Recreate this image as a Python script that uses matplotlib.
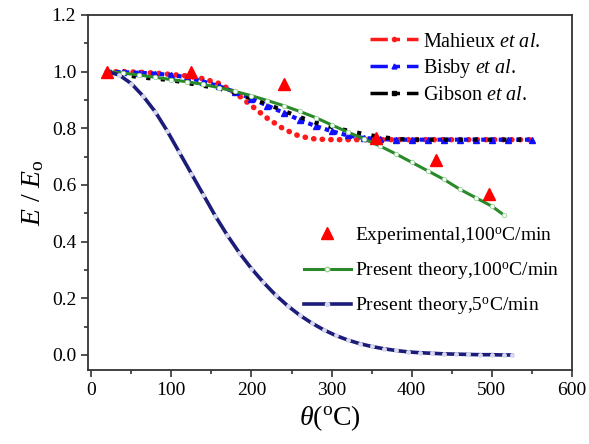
import matplotlib
matplotlib.use("Agg")
import matplotlib.pyplot as plt
from matplotlib.lines import Line2D
from matplotlib.ticker import MultipleLocator

plt.rcParams['font.family'] = ['Liberation Serif', 'DejaVu Serif']
plt.rcParams['mathtext.fontset'] = 'custom'
plt.rcParams['mathtext.rm'] = 'Liberation Serif'
plt.rcParams['mathtext.it'] = 'Liberation Serif:italic'
plt.rcParams['mathtext.bf'] = 'Liberation Serif:bold'

# ---- data ----
exp_T = [20, 125, 240, 356, 430, 496]
exp_E = [1.0, 0.998, 0.957, 0.766, 0.688, 0.568]

lit_T = [20, 40, 60, 80, 100, 120, 140, 160, 180, 200, 220, 240, 260, 280, 300,
         320, 340, 360, 380, 400, 420, 440, 460, 480, 500, 520, 550]
mahieux_E = [1.0, 1.0, 0.998, 0.995, 0.99, 0.985, 0.975, 0.958, 0.925, 0.88, 0.835,
             0.798, 0.772, 0.762, 0.76, 0.76, 0.76, 0.76, 0.76, 0.76, 0.76, 0.76,
             0.76, 0.76, 0.76, 0.76, 0.76]
bisby_E = [1.0, 0.998, 0.996, 0.993, 0.988, 0.98, 0.965, 0.948, 0.928, 0.905, 0.88,
           0.855, 0.83, 0.808, 0.79, 0.775, 0.766, 0.762, 0.76, 0.76, 0.76, 0.76,
           0.76, 0.76, 0.76, 0.76, 0.76]
gibson_E = [1.0, 0.99, 0.98, 0.975, 0.97, 0.96, 0.95, 0.94, 0.925, 0.905, 0.885,
            0.862, 0.84, 0.82, 0.805, 0.792, 0.78, 0.77, 0.763, 0.76, 0.76, 0.76,
            0.76, 0.76, 0.76, 0.76, 0.76]

t100_T = [20, 40, 60, 80, 100, 120, 140, 160, 180, 200, 220, 240, 260, 280, 300,
          320, 340, 360, 380, 400, 420, 440, 460, 480, 500, 515]
t100_E = [1.0, 0.995, 0.988, 0.98, 0.972, 0.964, 0.955, 0.943, 0.93, 0.915, 0.898,
          0.88, 0.86, 0.838, 0.812, 0.787, 0.763, 0.738, 0.71, 0.68, 0.65, 0.62,
          0.585, 0.555, 0.525, 0.494]

t5_T = [20, 35, 50, 65, 80, 95, 110, 125, 140, 155, 170, 185, 200, 215, 230, 245,
        260, 275, 290, 305, 320, 335, 350, 365, 380, 395, 410, 425, 440, 455, 470,
        485, 500, 515, 525]
t5_E = [1.0, 0.988, 0.958, 0.913, 0.858, 0.79, 0.715, 0.64, 0.565, 0.49, 0.422,
        0.36, 0.305, 0.256, 0.212, 0.174, 0.141, 0.113, 0.089, 0.069, 0.053, 0.04,
        0.03, 0.022, 0.016, 0.011, 0.008, 0.006, 0.004, 0.003, 0.002, 0.001,
        0.001, 0.0, 0.0]

xticks = [0, 100, 200, 300, 400, 500, 600]
yticks = [0.0, 0.2, 0.4, 0.6, 0.8, 1.0, 1.2]

RED = '#ff1a1a'
BLUE = '#1010ff'
BLACK = '#000000'
GREEN = '#2a8a2a'
NAVY = '#1c1c7a'

fig = plt.figure(figsize=(5.89, 4.44), dpi=100)
ax = fig.add_axes([88/589, 1-370/444, (572-88)/589, (370-15)/444])

ax.plot(lit_T, mahieux_E, color=RED, lw=4.0, linestyle=(0, (0.05, 1.5)),
        dash_capstyle='round', zorder=2)
ax.plot(lit_T, bisby_E, color=BLUE, lw=3.0, linestyle=(0, (1.1, 1.0)),
        marker='^', ms=4.5, zorder=3)
ax.plot(lit_T, gibson_E, color=BLACK, lw=3.0, linestyle=(1, (1.0, 2.5)), zorder=3)
ax.plot(t100_T, t100_E, color=GREEN, lw=2.2, marker='o', ms=3.2,
        mfc='white', mec='#9ad09a', mew=0.6, zorder=4)
ax.plot(t5_T, t5_E, color=NAVY, lw=2.6, marker='o', ms=3.0,
        mfc='#d8d8f0', mec='#d8d8f0', mew=0.5, zorder=4)
ax.plot(exp_T, exp_E, linestyle='none', marker='^', ms=8, color='red', zorder=5)

ax.set_xlim(-4, 600)
ax.set_ylim(-0.053, 1.2)
ax.set_xticks(xticks)
ax.set_yticks(yticks)
ax.set_yticklabels([f'{v:.1f}' for v in yticks])
ax.xaxis.set_minor_locator(MultipleLocator(50))
ax.yaxis.set_minor_locator(MultipleLocator(0.1))
ax.tick_params(which='both', direction='out', top=False, right=False,
               labelsize=14, color='#333333')
ax.tick_params(which='major', length=5, width=1.2)
ax.tick_params(which='minor', length=3, width=1.2)
for s in ax.spines.values():
    s.set_linewidth(1.3)
    s.set_color('#333333')

ax.set_xlabel(r'$\it{\theta}$($^{\rm o}$C)', fontsize=20, labelpad=3)
ax.set_ylabel(r'$\it{E}$ / $\it{E}_{\rm o}$', fontsize=20, labelpad=4)

h1 = [Line2D([], [], color=RED, lw=2.5, linestyle=(0, (5, 2, 1.5, 2)),
             marker='o', ms=3),
      Line2D([], [], color=BLUE, lw=2.5, linestyle=(0, (5, 2, 1.5, 2)),
             marker='^', ms=3.5),
      Line2D([], [], color=BLACK, lw=2.5, linestyle=(0, (5, 2, 1.5, 2)),
             marker='s', ms=2.5)]
l1 = [r'Mahieux $\it{et\ al.}$', r'Bisby $\it{et\ al.}$', r'Gibson $\it{et\ al.}$']
leg1 = ax.legend(h1, l1, loc='upper left', bbox_to_anchor=(0.545, 1.002),
                 frameon=False, fontsize=14.5, handlelength=2.4, handletextpad=0.25,
                 labelspacing=0.28, numpoints=1)
ax.add_artist(leg1)

h2 = [Line2D([], [], color='red', linestyle='none', marker='^', ms=8),
      Line2D([], [], color=GREEN, lw=2.2, marker='o', ms=3.2, mfc='white',
             mec='#9ad09a'),
      Line2D([], [], color=NAVY, lw=2.6, marker='o', ms=3.0, mfc='#d8d8f0',
             mec='#d8d8f0')]
l2 = [r'Experimental,100$^{\rm o}$C/min', r'Present theory,100$^{\rm o}$C/min',
      r'Present theory,5$^{\rm o}$C/min']
ax.legend(h2, l2, loc='upper left', bbox_to_anchor=(0.41, 0.458),
          frameon=False, fontsize=14, handlelength=2.4, handletextpad=0.25,
          labelspacing=0.7, numpoints=1)

fig.savefig('out.png', dpi=100)
